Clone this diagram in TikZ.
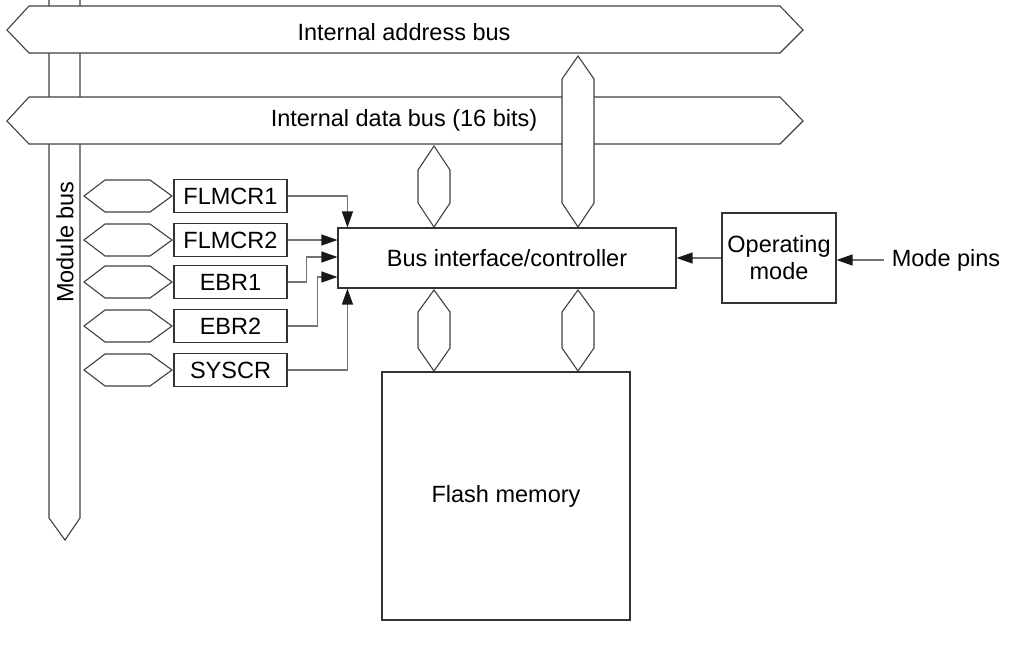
\documentclass[tikz,border=0pt]{standalone}
\usepackage{fontspec}
\setmainfont{Liberation Sans}
\usetikzlibrary{arrows.meta,calc}
\tikzset{
  busline/.style={draw=black!75, line width=1.1pt, fill=white, line join=miter},
  boxst/.style={draw=black!80, line width=1.1pt, fill=white, inner sep=0pt, align=center},
  conn/.style={draw=black!55, line width=1.2pt, -{Triangle[length=16pt,width=11pt,color=black!90]}},
  lbl/.style={inner sep=0pt, align=center},
}
\begin{document}
\begin{tikzpicture}[x=1pt,y=-1pt,font=\fontsize{23.5}{27}\selectfont]
\useasboundingbox (0,0) rectangle (1017,645);
% module bus
\draw[busline] (49,0) -- (49,518) -- (65,540) -- (80,518) -- (80,0);
% internal address bus
\draw[busline] (7,30) -- (29,6) -- (780,6) -- (803,30) -- (780,53) -- (29,53) -- cycle;
\node[lbl] (abus) at (404,32) {Internal address bus};
% internal data bus
\draw[busline] (7,121) -- (29,97) -- (780,97) -- (803,121) -- (780,144) -- (29,144) -- cycle;
\node[lbl] (dbus) at (404,120) {Internal data bus (16 bits)};
% module bus label
\node[lbl, rotate=90] (mbus) at (65,242) {Module bus};
% vertical address link
\draw[busline] (578,56) -- (594,79) -- (594,203) -- (578,227) -- (562,203) -- (562,79) -- cycle;
% data bus link
\draw[busline] (434,146) -- (450,170) -- (450,203) -- (434,227) -- (418,203) -- (418,170) -- cycle;
% controller
\node[boxst, minimum width=338pt, minimum height=60pt] (ctrl) at (507,258) {Bus interface/controller};
% links to flash
\draw[busline] (434,290) -- (450,312) -- (450,348) -- (434,371) -- (418,348) -- (418,312) -- cycle;
\draw[busline] (578,290) -- (594,312) -- (594,348) -- (578,371) -- (562,348) -- (562,312) -- cycle;
% flash memory
\node[boxst, minimum width=248pt, minimum height=248pt] (flash) at (506,496) {Flash memory};
% operating mode
\node[boxst, minimum width=114pt, minimum height=90pt] (opm) at (779,258) {Operating\\mode};
\node[lbl] (pins) at (946,260) {Mode pins};
\draw[conn] (pins.west) ++(-8,0) coordinate (pinsw) -- (pinsw -| opm.east);
\draw[conn] (opm.west) -- (opm.west -| ctrl.east);
% registers
\foreach \n/\t/\y in {f1/FLMCR1/196, f2/FLMCR2/240, e1/EBR1/282, e2/EBR2/326, sy/SYSCR/370}{
  \draw[busline] (84,\y) -- (105,\y-16) -- (150,\y-16) -- (172,\y) -- (150,\y+16) -- (105,\y+16) -- cycle;
  \node[boxst, minimum width=113pt, minimum height=33pt] (\n) at (230.5,\y) {\t};
}
% register connectors
\coordinate (cTop) at ($(ctrl.north west)+(10,0)$);
\coordinate (cBot) at ($(ctrl.south west)+(10,0)$);
\draw[conn] (f1.east) -| (cTop);
\draw[conn] (f2.east) -- (f2.east -| ctrl.west);
\draw[conn] (e1.east) -- ++(19,0) |- ($(ctrl.west)+(0,-1)$);
\draw[conn] (e2.east) -- ++(30,0) |- ($(ctrl.west)+(0,19)$);
\draw[conn] (sy.east) -| (cBot);
\end{tikzpicture}
\end{document}
